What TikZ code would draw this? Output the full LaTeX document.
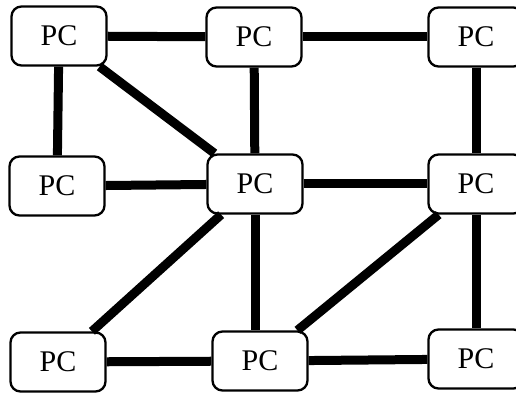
\documentclass[tikz,border=0pt]{standalone}
\usepackage{fontspec}
\setmainfont{Liberation Serif}

\begin{document}
\begin{tikzpicture}[x=1pt,y=-1pt,
  pc/.style={draw,line width=2.3pt,rounded corners=10pt,minimum width=95pt,minimum height=59pt,font=\fontsize{30}{30}\selectfont},
  link/.style={line width=9pt}]
\useasboundingbox (0,0) rectangle (516,395);
\node[pc] (tl) at (59,36) {PC};
\node[pc] (tm) at (254,37) {PC};
\node[pc] (tr) at (476,37) {PC};
\node[pc] (ml) at (57,186) {PC};
\node[pc] (mm) at (255,184) {PC};
\node[pc] (mr) at (476,184) {PC};
\node[pc] (bl) at (58,362) {PC};
\node[pc] (bm) at (260,361) {PC};
\node[pc] (br) at (476,359) {PC};
\foreach \a/\b in {tl/tm, tm/tr, tl/ml, tl/mm, tm/mm, tr/mr, ml/mm, mm/mr, mm/bl, mr/bm, mr/br, bl/bm, bm/br} {
 \draw[link] (\a) -- (\b);
}
\draw[link] (mm) -- (mm |- bm.north);
\end{tikzpicture}
\end{document}
